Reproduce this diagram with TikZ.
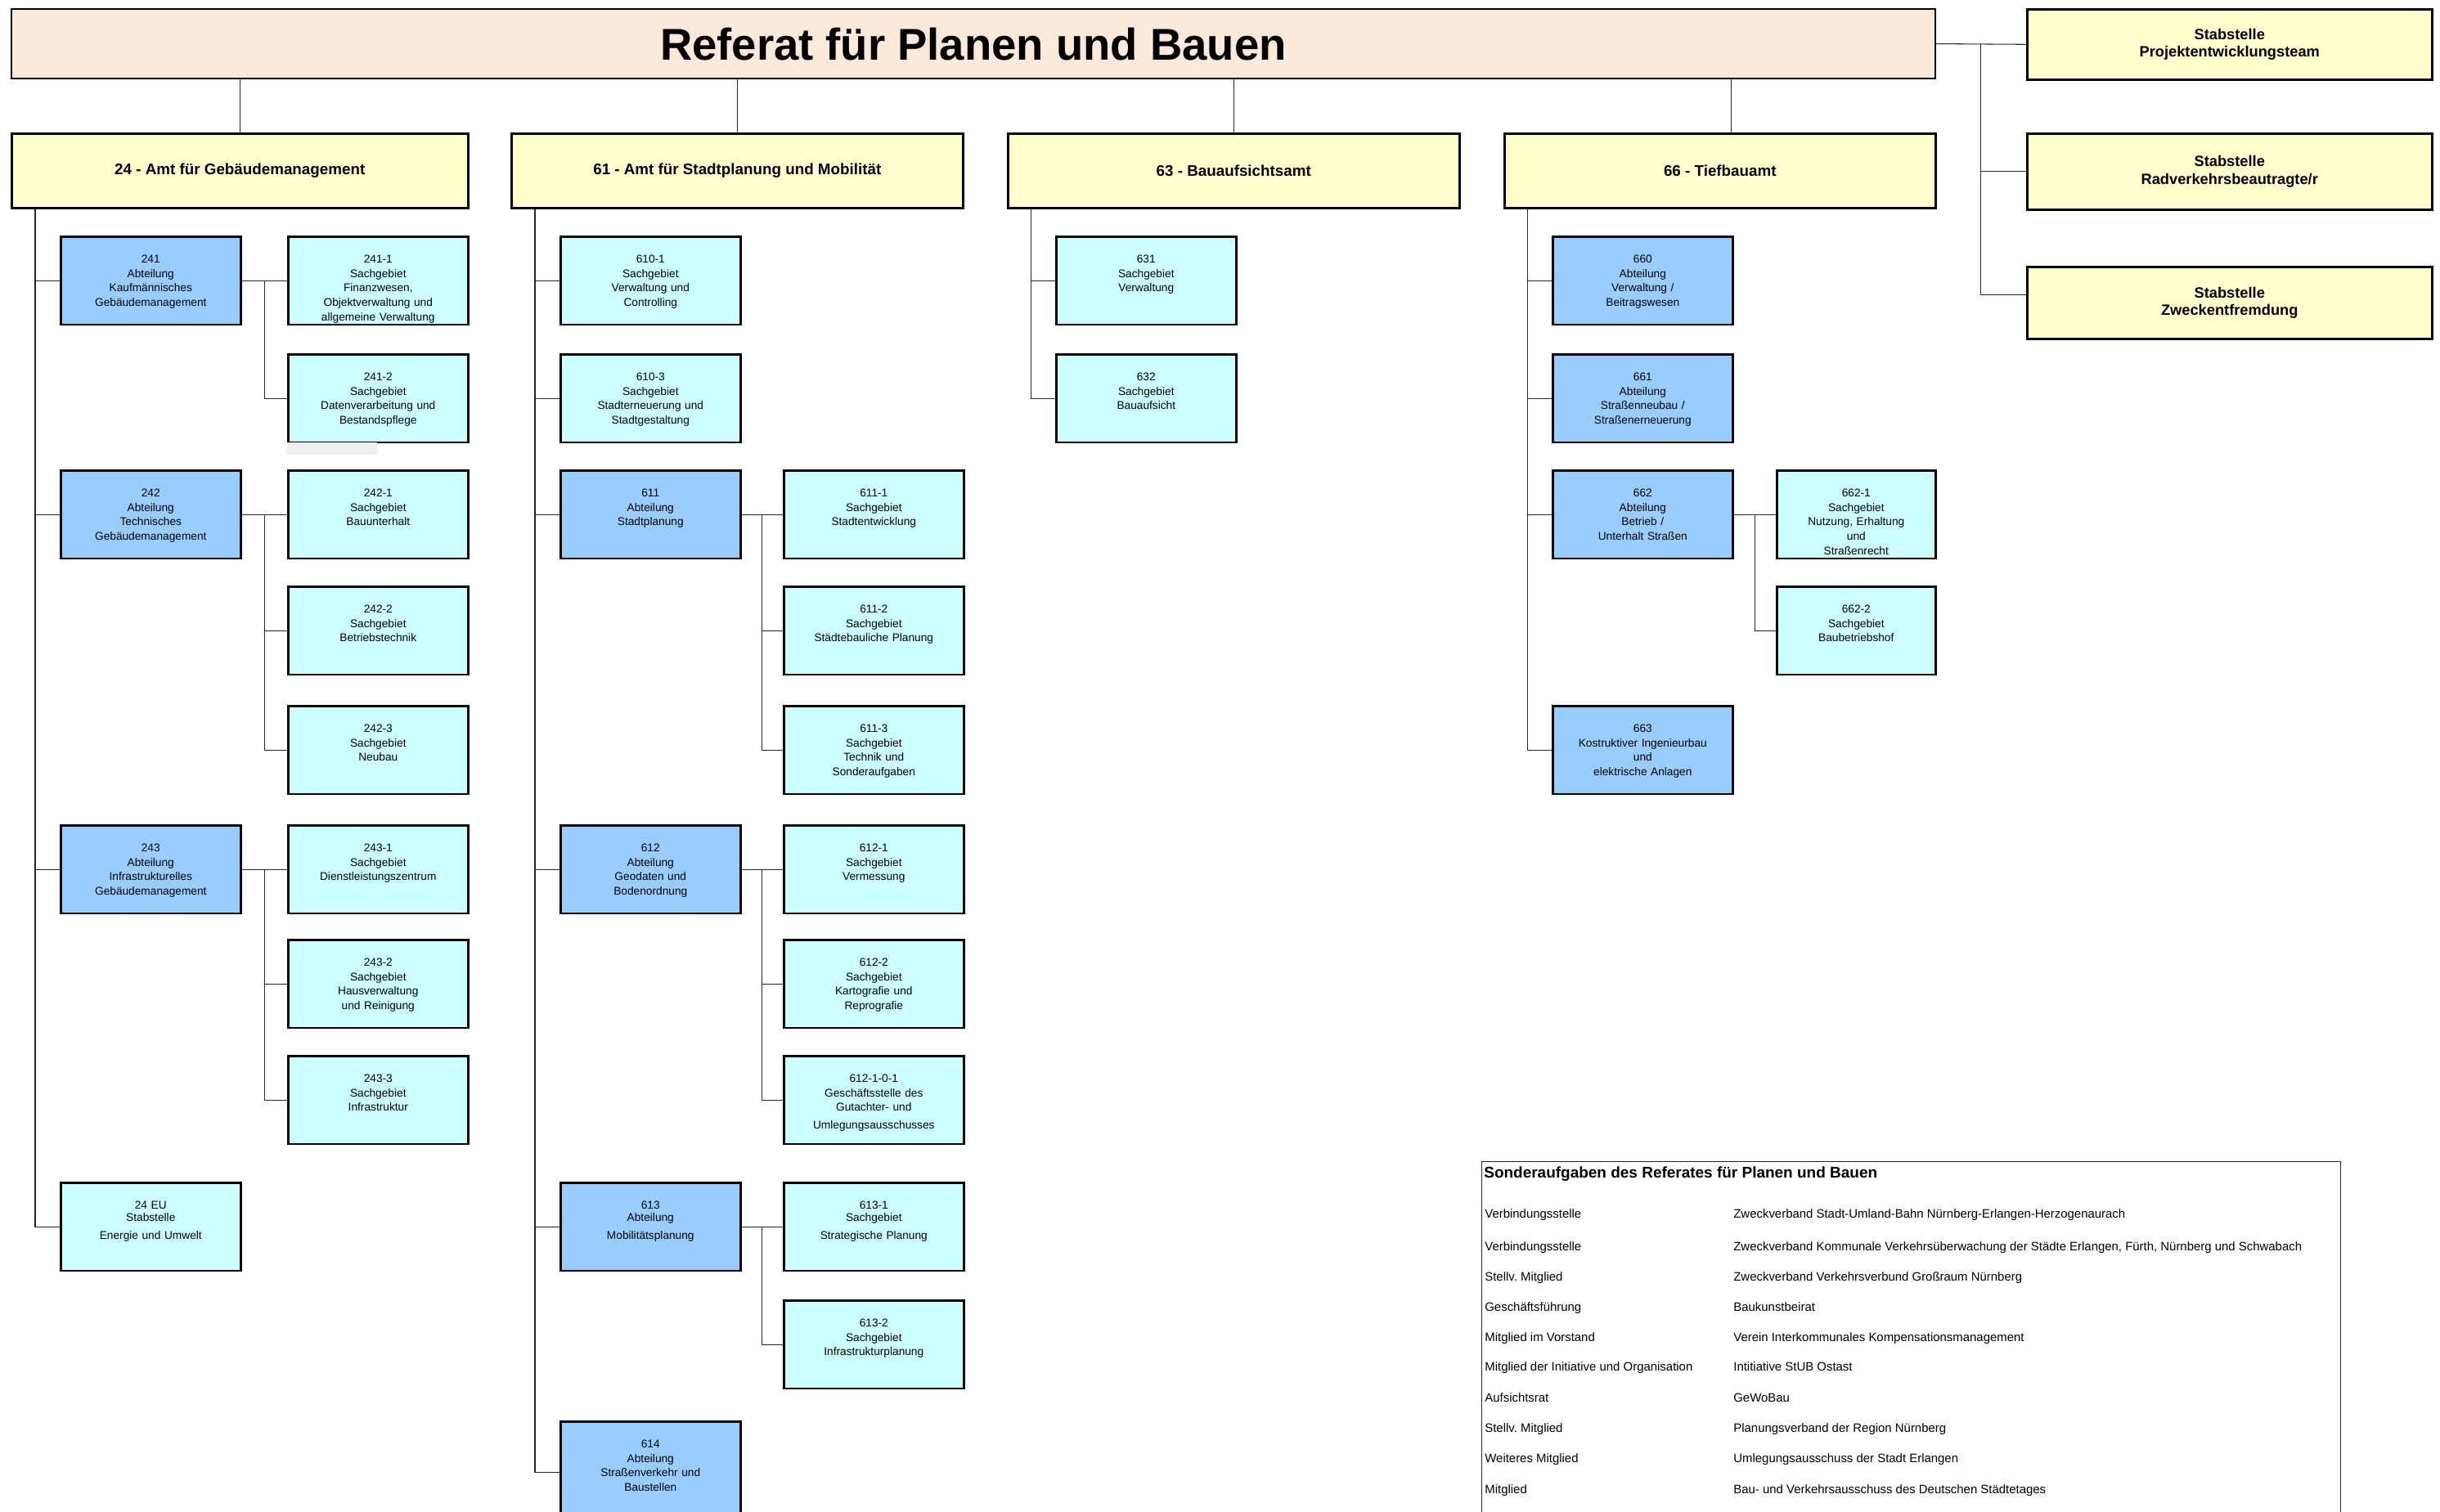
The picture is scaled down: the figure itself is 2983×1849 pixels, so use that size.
\documentclass[tikz,border=0pt]{standalone}
\usepackage{fontspec}
\setmainfont{Liberation Sans}
\usetikzlibrary{positioning,calc}
\frenchspacing
\definecolor{titlepeach}{HTML}{FDE9D9}
\definecolor{amtyellow}{HTML}{FFFFCC}
\definecolor{abtblue}{HTML}{99CCFF}
\definecolor{sgcyan}{HTML}{CCFFFF}
\definecolor{shadegray}{HTML}{EFEFEF}
\tikzset{
  conn/.style={draw=black!85, line width=0.6pt},
  unitbox/.style={draw, line width=1.5pt, anchor=north west, inner sep=0pt,
    text width=4.4cm, align=center, text height=18.5pt, text depth=42.7pt,
    font=\fontsize{7.8}{10}\selectfont},
  abt/.style={unitbox, fill=abtblue},
  sg/.style={unitbox, fill=sgcyan},
  sgnarrow/.style={sg, text width=3.88cm},
  amt/.style={draw, line width=1.5pt, fill=amtyellow, anchor=north west, inner sep=0pt,
    minimum height=1.82cm, font=\bfseries\fontsize{10.7}{12.8}\selectfont},
  stab/.style={draw, line width=1.5pt, fill=amtyellow, anchor=north west, inner sep=0pt,
    minimum width=9.9cm, align=center, font=\bfseries\fontsize{10.4}{12.5}\selectfont},
  eintrag/.style={anchor=base west, inner sep=0pt, font=\fontsize{8.5}{10}\selectfont}
}

\begin{document}
\begin{tikzpicture}[x=0.02cm, y=-0.02cm]
    \useasboundingbox (0,0) rectangle (2983,1849);
    \clip (0,0) rectangle (2983,1849);
    % Referat
    \node[draw, line width=1.2pt, fill=titlepeach, anchor=north west, inner sep=0pt,
      minimum width=47.04cm, minimum height=1.7cm, font=\bfseries\fontsize{31}{36}\selectfont]
      (title) at (13,10) {Referat für Planen und Bauen};
    % Stabstellen
    \node[stab, minimum height=1.72cm] (st1) at (2477,10) {Stabstelle\\Projektentwicklungsteam};
    \node[stab, minimum height=1.86cm] (st2) at (2477,162) {Stabstelle\\Radverkehrsbeautragte/r};
    \node[stab, minimum height=1.76cm] (st3) at (2477,325) {Stabstelle\\Zweckentfremdung};
    % Ämter
    \node[amt, minimum width=11.16cm] (a24) at (13,162) {24 - Amt für Gebäudemanagement};
    \node[amt, minimum width=11.04cm] (a61) at (624,162) {61 - Amt für Stadtplanung und Mobilität};
    \node[amt, minimum width=11.04cm] (a63) at (1231,162) {63 - Bauaufsichtsamt};
    \node[amt, minimum width=10.54cm] (a66) at (1838,162) {66 - Tiefbauamt};
    % Amt 24
    \node[abt] (a241) at (73,288) {241\\Abteilung\\Kaufmännisches\\Gebäudemanagement};
    \node[sg] (s2411) at (351,288) {241-1\\Sachgebiet\\Finanzwesen,\\Objektverwaltung und\\allgemeine Verwaltung};
    \node[sg] (s2412) at (351,432) {241-2\\Sachgebiet\\Datenverarbeitung und\\Bestandspflege};
    \fill[shadegray] (351,541) rectangle (461,556);
    \node[abt] (a242) at (73,574) {242\\Abteilung\\Technisches\\Gebäudemanagement};
    \node[sg] (s2421) at (351,574) {242-1\\Sachgebiet\\Bauunterhalt};
    \node[sg] (s2422) at (351,716) {242-2\\Sachgebiet\\Betriebstechnik};
    \node[sg] (s2423) at (351,862) {242-3\\Sachgebiet\\Neubau};
    \node[abt] (a243) at (73,1008) {243\\Abteilung\\Infrastrukturelles\\Gebäudemanagement};
    \node[sg] (s2431) at (351,1008) {243-1\\Sachgebiet\\Dienstleistungszentrum};
    \node[sg] (s2432) at (351,1148) {243-2\\Sachgebiet\\Hausverwaltung\\und Reinigung};
    \node[sg] (s2433) at (351,1290) {243-3\\Sachgebiet\\Infrastruktur};
    \node[sg] (eu24) at (73,1445) {24 EU\\[-1.9pt]Stabstelle\\[2.5pt]Energie und Umwelt};
    % Amt 61
    \node[sg] (s6101) at (684,288) {610-1\\Sachgebiet\\Verwaltung und\\Controlling};
    \node[sg] (s6103) at (684,432) {610-3\\Sachgebiet\\Stadterneuerung und\\Stadtgestaltung};
    \node[abt] (a611) at (684,574) {611\\Abteilung\\Stadtplanung};
    \node[sg] (s6111) at (957,574) {611-1\\Sachgebiet\\Stadtentwicklung};
    \node[sg] (s6112) at (957,716) {611-2\\Sachgebiet\\Städtebauliche Planung};
    \node[sg] (s6113) at (957,862) {611-3\\Sachgebiet\\Technik und\\Sonderaufgaben};
    \node[abt] (a612) at (684,1008) {612\\Abteilung\\Geodaten und\\Bodenordnung};
    \node[sg] (s6121) at (957,1008) {612-1\\Sachgebiet\\Vermessung};
    \node[sg] (s6122) at (957,1148) {612-2\\Sachgebiet\\Kartografie und\\Reprografie};
    \node[sg] (s612101) at (957,1290) {612-1-0-1\\Geschäftsstelle des\\Gutachter- und\\[2.5pt]Umlegungsausschusses};
    \node[abt] (a613) at (684,1445) {613\\[-1.9pt]Abteilung\\[2.5pt]Mobilitätsplanung};
    \node[sg] (s6131) at (957,1445) {613-1\\[-1.9pt]Sachgebiet\\[2.5pt]Strategische Planung};
    \node[sg] (s6132) at (957,1589) {613-2\\Sachgebiet\\Infrastrukturplanung};
    \node[abt, text depth=52pt] (a614) at (684,1737) {614\\Abteilung\\Straßenverkehr und\\Baustellen};
    % Amt 63
    \node[sg] (s631) at (1290,288) {631\\Sachgebiet\\Verwaltung};
    \node[sg] (s632) at (1290,432) {632\\Sachgebiet\\Bauaufsicht};
    % Amt 66
    \node[abt] (a660) at (1897,288) {660\\Abteilung\\Verwaltung /\\Beitragswesen};
    \node[abt] (a661) at (1897,432) {661\\Abteilung\\Straßenneubau /\\Straßenerneuerung};
    \node[abt] (a662) at (1897,574) {662\\Abteilung\\Betrieb /\\Unterhalt Straßen};
    \node[sgnarrow] (s6621) at (2171,574) {662-1\\Sachgebiet\\Nutzung, Erhaltung\\und\\Straßenrecht};
    \node[sgnarrow] (s6622) at (2171,716) {662-2\\Sachgebiet\\Baubetriebshof};
    \node[abt] (a663) at (1897,862) {663\\Kostruktiver Ingenieurbau\\und\\elektrische Anlagen};

    % Verbindungen Referat
    \foreach \a in {a24,a61,a63}
        \draw[conn] (\a.north) -- (\a.north |- title.south);
    \draw[conn] ([xshift=0.28cm]a66.north) -- ([xshift=0.28cm]a66.north |- title.south);
    \coordinate (spst) at ($(title.east)!.5!(st1.west)$);
    \draw[conn] (title.east) -- (st1.west);
    \draw[conn] (spst) |- ([yshift=0.2cm]st3.west);
    \draw[conn] (spst |- st2.west) -- (st2.west);
    % Verbindungen Ämter
    \foreach \a/\c/\last in {a24/a241/eu24, a61/s6101/a614, a63/s631/s632, a66/a660/a663} {
        \coordinate (sp\a) at ($(\a.south west)!.5!(\a.south west -| \c.west)$);
        \draw[conn] (sp\a) |- (\last.west);
    }
    \foreach \a/\c in {a24/a241, a24/a242, a24/a243, a61/s6101, a61/s6103, a61/a611,
                       a61/a612, a61/a613, a63/s631, a66/a660, a66/a661, a66/a662}
        \draw[conn] (sp\a |- \c.west) -- (\c.west);
    % Verbindungen Abteilungen
    \foreach \p/\first/\last in {a241/s2411/s2412, a242/s2421/s2423, a243/s2431/s2433,
                                 a611/s6111/s6113, a612/s6121/s612101, a613/s6131/s6132, a662/s6621/s6622} {
        \coordinate (j\p) at ($(\p.east)!.5!(\first.west)$);
        \draw[conn] (\p.east) -- (\first.west);
        \draw[conn] (j\p) |- (\last.west);
    }
    \foreach \p/\m in {a242/s2422, a243/s2432, a611/s6112, a612/s6122}
        \draw[conn] (j\p |- \m.west) -- (\m.west);

    % Sonderaufgaben
    \node[draw=black!85, line width=0.6pt, anchor=north west, inner sep=0pt,
      minimum width=21cm, minimum height=9cm] (sonder) at (1811,1420) {};
    \node[anchor=west, inner sep=0pt, font=\bfseries\fontsize{10.8}{13}\selectfont]
      (sondertitel) at (1814,1436) {Sonderaufgaben des Referates für Planen und Bauen};
    \foreach \y/\rolle/\gremium [count=\i] in {
        1489/Verbindungsstelle/Zweckverband Stadt-Umland-Bahn Nürnberg-Erlangen-Herzogenaurach,
        1529/Verbindungsstelle/{Zweckverband Kommunale Verkehrsüberwachung der Städte Erlangen, Fürth, Nürnberg und Schwabach},
        1566/Stellv. Mitglied/Zweckverband Verkehrsverbund Großraum Nürnberg,
        1603/Geschäftsführung/Baukunstbeirat,
        1640/Mitglied im Vorstand/Verein Interkommunales Kompensationsmanagement,
        1676/Mitglied der Initiative und Organisation/Intitiative StUB Ostast,
        1714/Aufsichtsrat/GeWoBau,
        1751/Stellv. Mitglied/Planungsverband der Region Nürnberg,
        1788/Weiteres Mitglied/Umlegungsausschuss der Stadt Erlangen,
        1826/Mitglied/Bau- und Verkehrsausschuss des Deutschen Städtetages} {
        \node[eintrag] (rolle\i) at (1815,\y) {\rolle};
        \node[eintrag] (gremium\i) at (2119,\y) {\gremium};
    }
\end{tikzpicture}
\end{document}
